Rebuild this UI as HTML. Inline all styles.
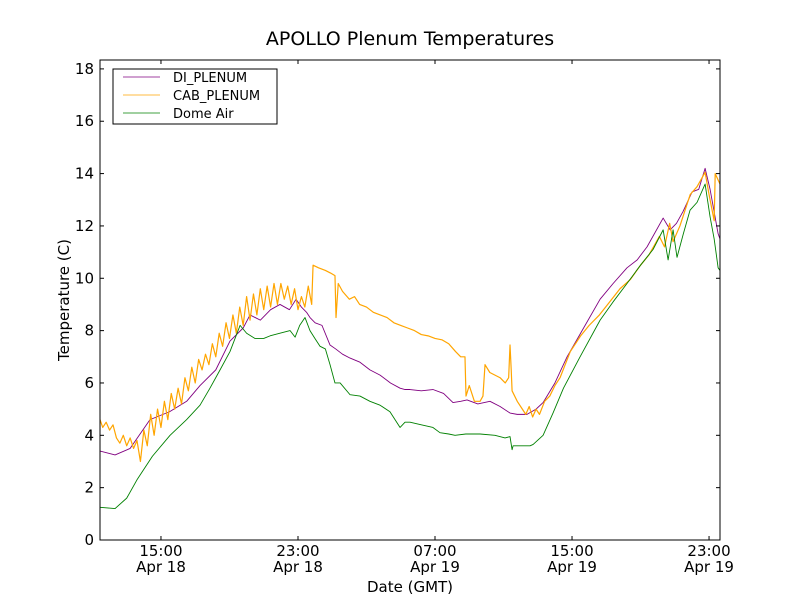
<!DOCTYPE html>
<html><head><meta charset="utf-8"><style>
body{margin:0;background:#fff;}
svg text{font-family:"DejaVu Sans","Liberation Sans",sans-serif;fill:#000;}
</style></head><body>
<svg id="chart" width="800" height="600" viewBox="0 0 800 600">
<rect x="0" y="0" width="800" height="600" fill="#fff"/>
<text x="410" y="45" font-size="19" text-anchor="middle">APOLLO Plenum Temperatures</text>
<g id="series"></g>
<rect x="100" y="60" width="620" height="480" fill="none" stroke="#000" stroke-width="1"/>
<g id="axes"></g>
<text x="410" y="592" font-size="15" text-anchor="middle">Date (GMT)</text>
<text transform="translate(69,300) rotate(-90)" font-size="15" text-anchor="middle">Temperature (C)</text>
<g>
<rect x="113" y="69" width="164" height="55" fill="#fff" stroke="#000" stroke-width="1"/>
<line x1="123" y1="77" x2="160" y2="77" stroke="#800080" stroke-width="0.8"/>
<text x="173" y="82" font-size="13">DI_PLENUM</text>
<line x1="123" y1="95" x2="160" y2="95" stroke="#ffa500" stroke-width="0.8"/>
<text x="173" y="100" font-size="13">CAB_PLENUM</text>
<line x1="123" y1="113" x2="160" y2="113" stroke="#008000" stroke-width="0.8"/>
<text x="173" y="118" font-size="13">Dome Air</text>
</g>
</svg>
<script>
// hours since 00:00 Apr 18 (GMT)
const yTicks = [0,2,4,6,8,10,12,14,16,18];
const xTickHours = [15,23,31,39,47];
const xTickTimes = ["15:00","23:00","07:00","15:00","23:00"];
const xTickDates = ["Apr 18","Apr 18","Apr 19","Apr 19","Apr 19"];

const diTimes = [11.44,12.32,13.2,14.36,15.5,16.5,17.28,18.2,19.03,19.8,20.2,20.8,21.4,21.95,22.5,22.89,23.2,23.5,23.7,24.0,24.4,24.87,25.2,25.6,26.04,26.6,27.2,27.79,28.4,28.96,29.25,29.54,30.2,30.88,31.5,32.05,32.5,32.87,33.5,34.21,34.8,35.38,35.8,36.37,36.9,37.31,38.0,38.71,39.5,40.64,41.4,42.21,42.8,43.38,44.32,44.73,45.1,45.48,46.01,46.4,46.77,47.06,47.53,47.64];
const diValues = [3.4,3.25,3.5,4.6,4.9,5.3,5.9,6.5,7.6,8.1,8.6,8.4,8.8,9.0,8.8,9.2,8.9,8.7,8.5,8.3,8.2,7.45,7.3,7.1,6.95,6.8,6.5,6.3,6.0,5.8,5.75,5.75,5.7,5.75,5.6,5.25,5.3,5.35,5.2,5.3,5.1,4.85,4.8,4.8,5.0,5.25,6.0,7.0,7.9,9.2,9.8,10.4,10.7,11.2,12.3,11.85,12.1,12.55,13.3,13.4,14.2,13.4,11.7,11.5];

const cabTimes = [11.44,11.6,11.8,12.0,12.2,12.4,12.6,12.8,13.0,13.2,13.4,13.6,13.8,14.0,14.2,14.4,14.6,14.8,15.0,15.2,15.4,15.6,15.8,16.0,16.2,16.4,16.6,16.8,17.0,17.2,17.4,17.6,17.8,18.0,18.2,18.4,18.6,18.8,19.0,19.2,19.4,19.6,19.8,20.0,20.2,20.4,20.6,20.8,21.0,21.2,21.4,21.6,21.8,22.0,22.2,22.4,22.6,22.8,23.0,23.2,23.4,23.6,23.8,23.88,24.2,24.6,24.9,25.16,25.22,25.35,25.6,26.0,26.3,26.6,27.0,27.4,27.8,28.2,28.6,29.0,29.4,29.8,30.2,30.6,31.0,31.4,31.8,32.2,32.5,32.75,32.81,33.0,33.3,33.63,33.8,33.92,34.2,34.5,34.8,35.1,35.3,35.38,35.45,35.5,35.8,36.1,36.3,36.5,36.7,36.9,37.1,37.4,37.7,38.0,38.3,38.9,39.5,40.0,40.6,41.2,41.8,42.4,43.0,43.5,44.1,44.4,44.7,44.9,45.3,45.9,46.3,46.77,47.0,47.3,47.36,47.5,47.64];
const cabValues = [4.6,4.3,4.5,4.2,4.4,3.9,3.7,4.0,3.6,3.9,3.5,3.8,3.0,4.2,3.6,4.8,4.0,5.0,4.3,5.3,4.6,5.6,5.0,5.8,5.2,6.2,5.7,6.6,6.0,6.9,6.5,7.1,6.7,7.5,7.0,7.9,7.4,8.3,7.7,8.6,7.9,8.9,8.2,9.3,8.4,9.4,8.6,9.6,8.8,9.7,8.9,9.8,9.0,9.8,9.2,9.7,9.0,9.6,8.8,9.3,8.9,9.7,9.0,10.5,10.4,10.3,10.2,10.1,8.5,9.8,9.5,9.2,9.3,9.0,8.9,8.7,8.6,8.5,8.3,8.2,8.1,8.0,7.85,7.8,7.7,7.65,7.5,7.2,7.0,7.0,5.5,5.9,5.3,5.3,5.5,6.7,6.4,6.3,6.2,6.0,6.2,7.45,6.5,5.7,5.3,5.0,4.8,5.1,4.7,5.0,4.8,5.3,5.5,5.9,6.2,7.2,7.8,8.2,8.6,9.1,9.6,9.95,10.5,10.9,11.6,11.2,12.1,11.4,12.0,13.2,13.5,14.05,13.2,12.2,14.0,13.8,13.6];

const domeTimes = [11.44,12.32,13.0,13.6,14.5,15.53,16.5,17.28,17.86,18.45,19.03,19.62,20.0,20.49,21.0,21.37,21.95,22.54,22.83,23.1,23.41,23.7,23.99,24.29,24.6,24.87,25.16,25.46,26.04,26.62,27.2,27.79,28.37,28.96,29.25,29.54,30.2,30.88,31.29,31.8,32.17,32.8,33.63,34.5,35.09,35.38,35.5,35.56,36.0,36.55,36.73,37.31,37.89,38.5,39.47,40.64,41.4,42.21,43.0,43.73,44.32,44.61,44.9,45.13,45.5,45.89,46.3,46.77,47.06,47.3,47.53,47.64];
const domeValues = [1.25,1.2,1.6,2.3,3.2,4.0,4.6,5.15,5.8,6.5,7.2,8.2,7.9,7.7,7.7,7.8,7.9,8.0,7.75,8.2,8.5,8.0,7.7,7.4,7.3,6.7,6.0,6.0,5.55,5.5,5.3,5.15,4.9,4.3,4.5,4.5,4.4,4.3,4.1,4.05,4.0,4.05,4.05,4.0,3.9,3.95,3.45,3.6,3.6,3.6,3.65,4.0,4.85,5.8,7.0,8.4,9.1,9.8,10.5,11.1,11.85,10.7,11.85,10.8,11.7,12.6,12.9,13.6,12.35,11.5,10.4,10.3];

const X0=100,X1=720,Y0=540,Y1=60,T0=11.44,T1=47.64,V0=0,V1=18.34;
function xs(t){return X0+(t-T0)/(T1-T0)*(X1-X0);}
function ys(v){return Y0-(v-V0)/(V1-V0)*(Y0-Y1);}
const NS="http://www.w3.org/2000/svg";
const sg=document.getElementById('series');
function drawLine(times,vals,color,name,w){
  const p=document.createElementNS(NS,'polyline');
  p.setAttribute('points',times.map((t,i)=>xs(t).toFixed(2)+','+ys(vals[i]).toFixed(2)).join(' '));
  p.setAttribute('fill','none');p.setAttribute('stroke',color);p.setAttribute('stroke-width',w);
  p.setAttribute('stroke-linejoin','round');
  
  
  sg.appendChild(p);
}
const cp=document.createElementNS(NS,'clipPath');cp.id='clip';
const cr=document.createElementNS(NS,'rect');cr.setAttribute('x',X0);cr.setAttribute('y',Y1);cr.setAttribute('width',X1-X0);cr.setAttribute('height',Y0-Y1);
cp.appendChild(cr);document.getElementById('chart').appendChild(cp);
sg.setAttribute('clip-path','url(#clip)');
drawLine(diTimes,diValues,'#800080','series-di-plenum','0.9');
drawLine(cabTimes,cabValues,'#ffa500','series-cab-plenum','1.2');
drawLine(domeTimes,domeValues,'#008000','series-dome-air','0.9');

const ax=document.getElementById('axes');
function ln(x1,y1,x2,y2){const l=document.createElementNS(NS,'line');l.setAttribute('x1',x1);l.setAttribute('y1',y1);l.setAttribute('x2',x2);l.setAttribute('y2',y2);l.setAttribute('stroke','#000');l.setAttribute('stroke-width','1');ax.appendChild(l);return l;}
function tx(x,y,s,anchor){const t=document.createElementNS(NS,'text');t.setAttribute('x',x);t.setAttribute('y',y);t.setAttribute('font-size','15');t.setAttribute('text-anchor',anchor);t.textContent=s;ax.appendChild(t);return t;}
yTicks.forEach(v=>{
  const y=ys(v);
  const a=ln(X0,y,X0+4,y);
  
  
  const b=ln(X1-4,y,X1,y);
  
  
  const t=tx(94,y+5,String(v),'end');
  
  
});
xTickHours.forEach((h,i)=>{
  const x=xs(h);
  const a=ln(x,Y0,x,Y0-4);
  
  
  const b=ln(x,Y1,x,Y1+4);
  
  
  const t1=tx(x,556,xTickTimes[i],'middle');
  
  
  const t2=tx(x,572,xTickDates[i],'middle');
  
  
});
</script>
</body></html>
